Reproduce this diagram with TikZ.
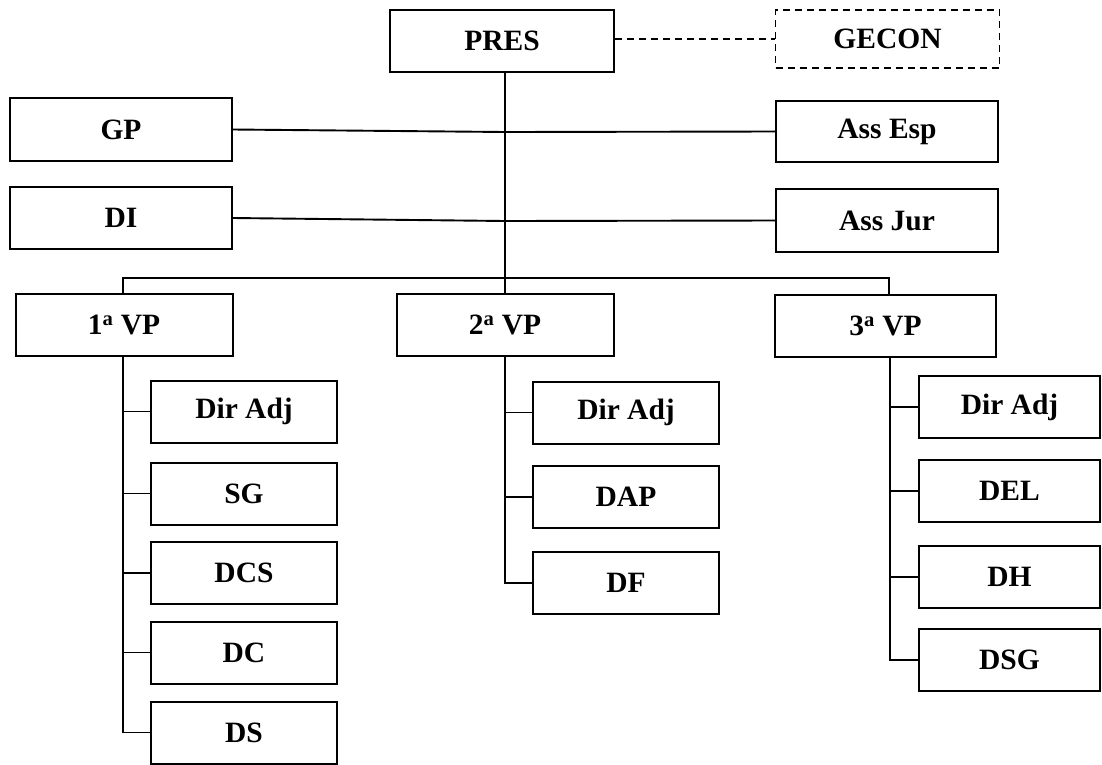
\documentclass[tikz,border=0pt]{standalone}
\usepackage{fontspec}
\setmainfont{Liberation Serif}
\begin{document}
\begin{tikzpicture}[x=1pt,y=-1pt,
  orgbox/.style={draw,line width=2pt,rectangle,inner sep=0pt,
    font=\fontsize{29.5}{32}\selectfont\bfseries},
  wide/.style={minimum width=224pt,minimum height=62pt},
  vpbox/.style={minimum width=217pt,minimum height=62pt},
  sub/.style={minimum width=186pt,minimum height=62pt},
  link/.style={line width=1.9pt},
  dashlink/.style={line width=1.9pt,dash pattern=on 7pt off 5pt}]
\useasboundingbox (0,0) rectangle (1102,764);
% top
\node[orgbox,wide] (pres) at (502,41) {PRES};
\node[orgbox,wide,dashlink,minimum height=58pt] (gecon) at (887.5,39) {GECON};
\node[orgbox,minimum width=222pt,minimum height=63pt] (gp) at (121,129.5) {GP};
\node[orgbox,minimum width=222pt,minimum height=61pt] (assesp) at (887,131.5) {Ass Esp};
\node[orgbox,minimum width=222pt,minimum height=62pt] (di) at (121,218) {DI};
\node[orgbox,minimum width=222pt,minimum height=63pt] (assjur) at (887,220.5) {Ass Jur};
% vice presidents
\node[orgbox,vpbox] (vp1) at (124,325) {1\textsuperscript{a} VP};
\node[orgbox,vpbox] (vp2) at (505,325) {2\textsuperscript{a} VP};
\node[orgbox,vpbox,minimum width=221pt] (vp3) at (885.5,325.5) {3\textsuperscript{a} VP};
% 1a VP children
\node[orgbox,sub] (a1) at (244,411.5) {Dir Adj};
\node[orgbox,sub] (a2) at (244,493.5) {SG};
\node[orgbox,sub] (a3) at (244,573) {DCS};
\node[orgbox,sub] (a4) at (244,652.5) {DC};
\node[orgbox,sub] (a5) at (244,732.5) {DS};
% 2a VP children
\node[orgbox,sub] (b1) at (626,412.5) {Dir Adj};
\node[orgbox,sub] (b2) at (626,497) {DAP};
\node[orgbox,sub] (b3) at (626,583) {DF};
% 3a VP children
\node[orgbox,sub,minimum width=181pt] (c1) at (1009.5,407) {Dir Adj};
\node[orgbox,sub,minimum width=181pt] (c2) at (1009.5,491) {DEL};
\node[orgbox,sub,minimum width=181pt] (c3) at (1009.5,577) {DH};
\node[orgbox,sub,minimum width=181pt] (c4) at (1009.5,660) {DSG};
% helper coordinates
\coordinate (j1) at (505,132);
\coordinate (j2) at (505,221);
\coordinate (busl) at (123,278);
\coordinate (busr) at (889,278);
\coordinate (t1) at (123,0);
\coordinate (t3) at (890,0);
% connectors
\draw[dashlink] (gecon.west -| pres.east) -- (gecon.west);
\draw[link] (pres.south -| vp2.north) -- (vp2.north);
\draw[link] (gp.east) -- (j1) -- (assesp.west);
\draw[link] (di.east) -- (j2) -- (assjur.west);
\draw[link] (busl |- vp1.north) -- (busl) -- (busr) -- (busr |- vp3.north);
% 1a VP tree
\draw[link] (vp1.south -| t1) -- (a5.west -| t1) -- (a5.west);
\foreach \n in {a1,a2,a3,a4} \draw[link] (\n.west -| t1) -- (\n.west);
% 2a VP tree
\draw[link] (vp2.south) -- (b3.west -| vp2.south) -- (b3.west);
\foreach \n in {b1,b2} \draw[link] (\n.west -| vp2.south) -- (\n.west);
% 3a VP tree
\draw[link] (vp3.south -| t3) -- (c4.west -| t3) -- (c4.west);
\foreach \n in {c1,c2,c3} \draw[link] (\n.west -| t3) -- (\n.west);
\end{tikzpicture}
\end{document}
